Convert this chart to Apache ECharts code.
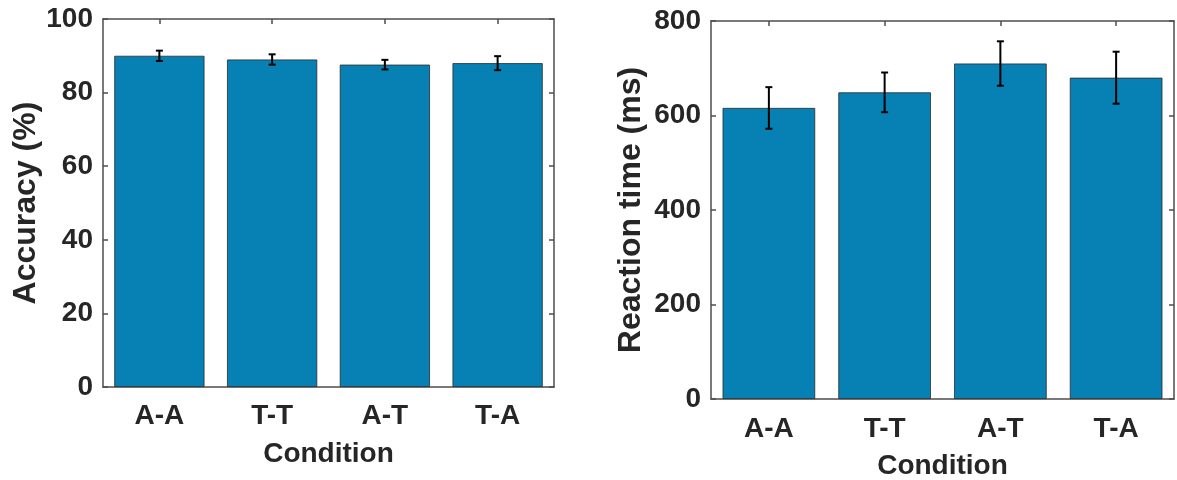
<!DOCTYPE html>
<html>
<head>
<meta charset="utf-8">
<script src="https://cdn.jsdelivr.net/npm/echarts@6/dist/echarts.min.js"></script>
<style>
  html, body { margin: 0; padding: 0; background: #fff; }
  #main { width: 1177px; height: 480px; }
</style>
</head>
<body>
<div id="main"></div>
<script>
// data
var conditions = ['A-A', 'T-T', 'A-T', 'T-A'];
var accMean = [90.0, 89.0, 87.6, 88.0];
var accErr = [1.4, 1.4, 1.3, 1.9];
var rtMean = [616, 649, 710, 680];
var rtErr = [44, 42, 47, 55];
var accTicks = [0, 20, 40, 60, 80, 100];
var rtTicks = [0, 200, 400, 600, 800];

var barColor = '#0780b3';
var axisColor = '#4d4d4d';
var textColor = '#262626';
var fontFam = '"Liberation Sans", Arial, sans-serif';

var chart = echarts.init(document.getElementById('main'));

function errData(mean, err) {
  return mean.map(function (m, i) { return [i, m - err[i], m + err[i]]; });
}

function renderErr(params, api) {
  var lo = api.coord([api.value(0), api.value(1)]);
  var hi = api.coord([api.value(0), api.value(2)]);
  var w = 3.5;
  var style = { stroke: '#000', lineWidth: 2 };
  return {
    type: 'group',
    children: [
      { type: 'line', shape: { x1: lo[0], y1: lo[1], x2: hi[0], y2: hi[1] }, style: style },
      { type: 'line', shape: { x1: lo[0] - w, y1: lo[1], x2: lo[0] + w, y2: lo[1] }, style: style },
      { type: 'line', shape: { x1: hi[0] - w, y1: hi[1], x2: hi[0] + w, y2: hi[1] }, style: style }
    ]
  };
}

function xAx(gi, pos, labelMargin) {
  var bottom = pos === 'bottom';
  return {
    type: 'category',
    gridIndex: gi,
    position: pos,
    data: conditions,
    name: bottom ? 'Condition' : '',
    nameLocation: 'middle',
    nameGap: 53,
    nameTextStyle: { fontFamily: fontFam, fontWeight: 'bold', fontSize: 28, color: textColor },
    axisLine: { show: true, onZero: false, lineStyle: { color: axisColor, width: 1.5 } },
    axisTick: { show: !bottom, inside: true, alignWithLabel: true, length: 5, lineStyle: { color: axisColor, width: 1.5 } },
    axisLabel: { show: bottom, margin: labelMargin, fontFamily: fontFam, fontWeight: 'bold', fontSize: 28, color: textColor },
    splitLine: { show: false }
  };
}

function yAx(gi, pos, max, interval, name, gap) {
  var left = pos === 'left';
  return {
    type: 'value',
    gridIndex: gi,
    position: pos,
    min: 0,
    max: max,
    interval: interval,
    name: left ? name : '',
    nameLocation: 'middle',
    nameGap: gap,
    nameTextStyle: { fontFamily: fontFam, fontWeight: 'bold', fontSize: 32, color: textColor },
    axisLine: { show: true, onZero: false, lineStyle: { color: axisColor, width: 1.5 } },
    axisTick: { show: true, inside: true, length: 5, lineStyle: { color: axisColor, width: 1.5 } },
    axisLabel: { show: left, margin: 10, fontFamily: fontFam, fontWeight: 'bold', fontSize: 28, color: textColor },
    splitLine: { show: false }
  };
}

var option = {
  animation: false,
  backgroundColor: '#fff',
  grid: [
    { left: 103, top: 19, width: 451, height: 368, outerBoundsMode: 'none', containLabel: false },
    { left: 711, top: 21, width: 463, height: 378, outerBoundsMode: 'none', containLabel: false }
  ],
  xAxis: [
    xAx(0, 'bottom', 15), xAx(0, 'top', 15),
    xAx(1, 'bottom', 16), xAx(1, 'top', 16)
  ],
  yAxis: [
    yAx(0, 'left', accTicks[accTicks.length - 1], accTicks[1] - accTicks[0], 'Accuracy (%)', 55),
    yAx(0, 'right', accTicks[accTicks.length - 1], accTicks[1] - accTicks[0], '', 0),
    yAx(1, 'left', rtTicks[rtTicks.length - 1], rtTicks[1] - rtTicks[0], 'Reaction time (ms)', 64),
    yAx(1, 'right', rtTicks[rtTicks.length - 1], rtTicks[1] - rtTicks[0], '', 0)
  ],
  series: [
    {
      type: 'bar', xAxisIndex: 0, yAxisIndex: 0, data: accMean,
      barCategoryGap: '20%',
      itemStyle: { color: barColor, borderColor: '#2b2b2b', borderWidth: 0.8 }
    },
    {
      type: 'custom', xAxisIndex: 0, yAxisIndex: 0, z: 5,
      data: errData(accMean, accErr), renderItem: renderErr
    },
    {
      type: 'bar', xAxisIndex: 2, yAxisIndex: 2, data: rtMean,
      barCategoryGap: '20%',
      itemStyle: { color: barColor, borderColor: '#2b2b2b', borderWidth: 0.8 }
    },
    {
      type: 'custom', xAxisIndex: 2, yAxisIndex: 2, z: 5,
      data: errData(rtMean, rtErr), renderItem: renderErr
    }
  ]
};

chart.setOption(option);
</script>
</body>
</html>
